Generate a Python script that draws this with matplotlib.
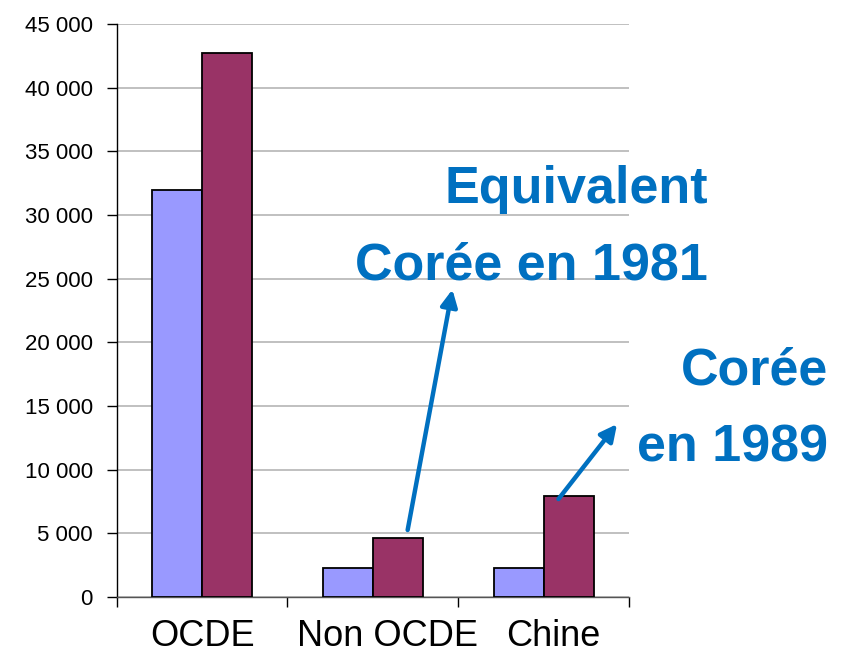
import matplotlib
matplotlib.use("Agg")
import matplotlib.pyplot as plt
from matplotlib.ticker import FuncFormatter, FixedLocator
import matplotlib.transforms as mtransforms

plt.rcParams['font.family'] = ['Liberation Sans', 'DejaVu Sans']

categories = ["OCDE", "Non OCDE", "Chine"]
serie_1 = [32000, 2300, 2300]
serie_2 = [42700, 4600, 7950]
y_ticks = [0, 5000, 10000, 15000, 20000, 25000, 30000, 35000, 40000, 45000]

blue = "#0070C0"
width = 0.293

fig = plt.figure(figsize=(8.46, 6.57), dpi=100)
ax = fig.add_axes([116.6 / 846, 60 / 657, (629 - 116.6) / 846, (597 - 24) / 657])

x = list(range(len(categories)))
ax.bar([i - width / 2 for i in x], serie_1, width, color="#9999FF",
       edgecolor="black", linewidth=1.3, zorder=3)
ax.bar([i + width / 2 for i in x], serie_2, width, color="#993366",
       edgecolor="black", linewidth=1.3, zorder=3)

ax.set_xlim(-0.5, len(categories) - 0.5)
ax.set_ylim(0, 45000)
ax.set_yticks(y_ticks)
ax.yaxis.set_major_formatter(FuncFormatter(lambda v, p: f"{int(v):,}".replace(",", " ")))
ax.grid(axis="y", color="#c0c0c0", linewidth=1.4, zorder=0)

ax.set_xticks(x)
ax.set_xticklabels(categories, fontsize=26)
ax.xaxis.set_minor_locator(FixedLocator([-0.5, 0.5, 1.5, 2.5]))
ax.tick_params(axis="x", which="major", length=0, pad=16)
ax.tick_params(axis="x", which="minor", length=7, width=1.0, direction="out")
ax.tick_params(axis="y", length=7, width=1.0, labelsize=16, pad=10)

# the category labels sit a little right of centre in the original
for lab, dx in zip(ax.get_xticklabels(), [1, 15, 10]):
    lab.set_transform(lab.get_transform() + mtransforms.ScaledTranslation(dx / 100, 0, fig.dpi_scale_trans))

for s in ["top", "right"]:
    ax.spines[s].set_visible(False)
ax.spines["left"].set_linewidth(1.0)
ax.spines["bottom"].set_linewidth(1.0)
ax.spines["bottom"].set_color("#555555")

# annotations
kw = dict(color=blue, fontsize=37.5, fontweight="bold", ha="right", va="baseline")
fig.text(708 / 846, 1 - 203.3 / 657, "Equivalent", **kw)
fig.text(708 / 846, 1 - 279.3 / 657, "Corée en 1981", **kw)
fig.text(828 / 846, 1 - 384.3 / 657, "Corée", **kw)
fig.text(828 / 846, 1 - 461.7 / 657, "en 1989", **kw)

arrow = dict(arrowstyle="-|>,head_length=1.0,head_width=0.5", color=blue, lw=3.2,
             shrinkA=0, shrinkB=0)
ax.annotate("", xy=(1.466, 24150), xytext=(1.204, 5260), arrowprops=arrow,
            annotation_clip=False)
ax.annotate("", xy=(2.430, 13580), xytext=(2.087, 7690), arrowprops=arrow,
            annotation_clip=False)

fig.savefig("out.png", dpi=100)
plt.close(fig)
